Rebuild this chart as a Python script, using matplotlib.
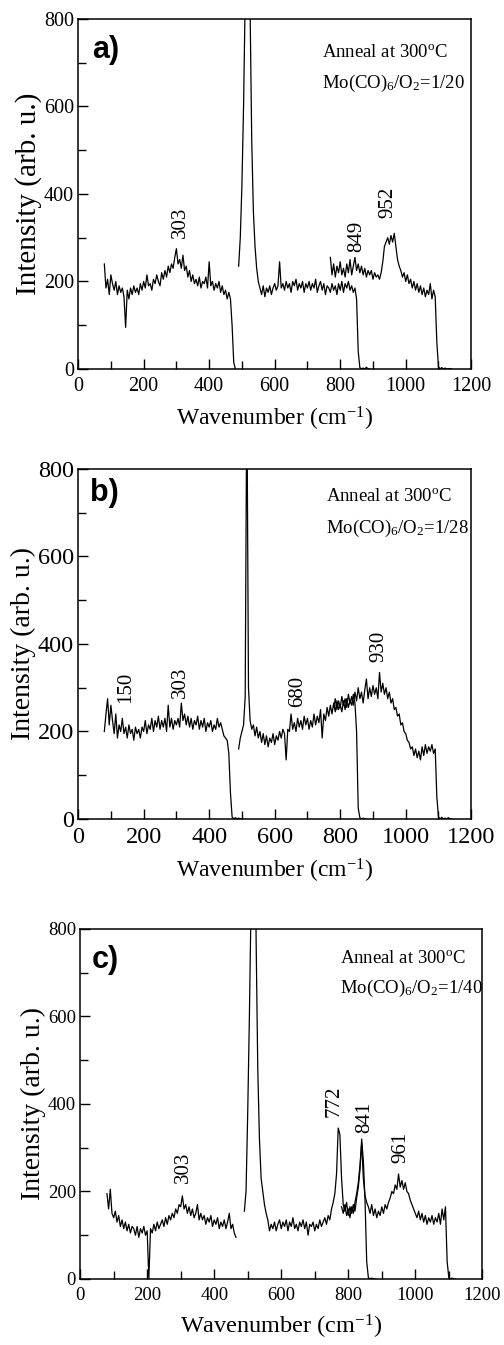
import matplotlib
matplotlib.use('Agg')
import matplotlib.pyplot as plt
import numpy as np

plt.rcParams['font.family'] = ['Liberation Serif', 'DejaVu Serif']
plt.rcParams['mathtext.fontset'] = 'custom'
plt.rcParams['mathtext.rm'] = 'Liberation Serif'
plt.rcParams['mathtext.it'] = 'Liberation Serif:italic'
plt.rcParams['mathtext.bf'] = 'Liberation Serif:bold'

STEP = 5  # cm-1 between read-off points

# ---- panel a: Mo(CO)6/O2 = 1/20 ----
a_w1_start = 80
a_w1 = [240, 185, 205, 170, 215, 195, 180, 200, 170, 190, 175, 185, 165, 95, 180, 160,
        185, 170, 190, 175, 185, 170, 195, 180, 200, 185, 215, 190, 195, 180, 205, 195,
        215, 200, 190, 220, 205, 225, 210, 235, 220, 240, 230, 255, 275, 240, 250, 230,
        260, 225, 235, 210, 225, 200, 215, 195, 205, 190, 210, 185, 200, 195, 210, 185,
        245, 190, 200, 180, 195, 185, 200, 175, 190, 170, 180, 160, 175, 160, 100, 15, 0]
a_w2_start = 490
a_w2 = [235, 300, 420, 600, 850, 1600, 1800, 820, 520, 360, 280, 230, 200, 185, 170, 190,
        165, 185, 175, 190, 170, 185, 195, 180, 190, 245, 185, 195, 180, 200, 185, 195,
        175, 200, 190, 205, 180, 195, 185, 200, 175, 195, 185, 200, 180, 195, 185, 205,
        175, 190, 200, 180, 195, 170, 190, 185, 175, 195, 180, 190, 170, 195, 180, 200,
        175, 195, 185, 200, 180, 190, 175, 185, 160, 40, 3, 0, 2, 0, 4, 0, 0]
a_w3_start = 770
a_w3 = [255, 215, 240, 210, 235, 220, 245, 215, 230, 210, 240, 220, 250, 215, 235, 255,
        225, 240, 220, 235, 215, 230, 210, 225, 215, 225, 205, 220, 210, 215, 205, 220,
        245, 280, 290, 300, 285, 305, 290, 310, 280, 250, 235, 225, 210, 220, 200, 215,
        195, 205, 185, 200, 180, 195, 175, 190, 170, 185, 165, 180, 170, 195, 160, 180,
        165, 60, 5, 0, 3, 0, 2, 0, 0, 1, 0]

# ---- panel b: Mo(CO)6/O2 = 1/28 ----
b_w1_start = 80
b_w1 = [200, 240, 275, 215, 260, 225, 195, 240, 185, 215, 200, 230, 195, 210, 185, 215,
        195, 205, 180, 210, 195, 205, 185, 210, 200, 225, 195, 215, 205, 230, 200, 225,
        210, 235, 205, 225, 210, 230, 200, 260, 210, 230, 205, 225, 215, 230, 210, 265,
        225, 240, 215, 235, 210, 230, 205, 225, 215, 235, 205, 225, 210, 230, 200, 220,
        210, 225, 200, 215, 205, 230, 210, 220, 205, 190, 185, 180, 150, 60, 5, 0, 3, 0,
        2, 0, 0]
b_w2_start = 490
b_w2 = [160, 185, 200, 215, 280, 1000, 300, 225, 205, 215, 190, 210, 185, 200, 175, 195,
        170, 190, 165, 185, 175, 195, 170, 190, 180, 200, 185, 205, 195, 135, 205, 200,
        240, 205, 220, 200, 230, 210, 225, 205, 235, 215, 230, 205, 225, 210, 240, 215,
        235, 220, 250, 185, 240, 225, 255, 235, 260, 240, 265, 245, 270, 250, 260, 245,
        270, 250, 275, 255, 270, 260, 285, 265, 200, 25, 3, 0, 2, 0, 0]
b_w3_start = 780
b_w3 = [255, 275, 250, 270, 255, 280, 260, 275, 255, 285, 265, 280, 260, 290, 270, 300,
        275, 290, 265, 295, 320, 275, 300, 280, 305, 285, 300, 275, 335, 290, 310, 285,
        300, 275, 290, 265, 275, 250, 255, 235, 240, 215, 220, 200, 195, 180, 175, 160,
        165, 145, 160, 140, 155, 135, 165, 145, 170, 150, 165, 155, 170, 150, 160, 50,
        5, 0, 4, 0, 2, 0, 3, 0, 0]

# ---- panel c: Mo(CO)6/O2 = 1/40 ----
c_w1_start = 80
c_w1 = [195, 160, 205, 150, 140, 155, 130, 145, 120, 135, 115, 130, 110, 125, 105, 120,
        115, 100, 120, 95, 115, 105, 120, 100, 110, 0, 115, 105, 125, 110, 130, 115,
        125, 135, 120, 140, 125, 145, 135, 150, 140, 160, 150, 170, 165, 190, 160, 170,
        150, 165, 145, 160, 140, 150, 170, 135, 150, 135, 145, 125, 140, 130, 145, 120,
        135, 125, 140, 115, 130, 120, 135, 115, 130, 150, 115, 125, 105, 95]
c_w2_start = 490
c_w2 = [155, 200, 380, 600, 860, 1800, 1500, 780, 480, 320, 230, 200, 170, 150, 135, 110,
        125, 115, 130, 110, 125, 135, 115, 130, 120, 135, 110, 130, 120, 140, 115, 125,
        110, 130, 120, 135, 115, 130, 100, 125, 120, 130, 110, 125, 115, 135, 120, 130,
        140, 125, 145, 135, 160, 175, 195, 240, 345, 330, 230, 170, 155, 175, 145, 165,
        150, 170, 155, 185, 210, 250, 320, 270, 180, 40, 3, 0, 2, 0, 0]
c_w3_start = 780
c_w3 = [165, 150, 170, 145, 160, 140, 165, 150, 175, 195, 220, 260, 310, 230, 190, 175,
        165, 150, 170, 145, 160, 140, 155, 145, 165, 150, 170, 160, 175, 185, 200, 195,
        215, 205, 240, 210, 225, 205, 220, 200, 195, 180, 170, 160, 150, 140, 155, 135,
        150, 130, 145, 125, 140, 130, 145, 125, 140, 130, 150, 125, 160, 135, 165, 40,
        3, 0, 2, 0, 0]

panel_tags = ['a)', 'b)', 'c)']
ratios = ['1/20', '1/28', '1/40']
windows = [
    [(a_w1_start, a_w1), (a_w2_start, a_w2), (a_w3_start, a_w3)],
    [(b_w1_start, b_w1), (b_w2_start, b_w2), (b_w3_start, b_w3)],
    [(c_w1_start, c_w1), (c_w2_start, c_w2), (c_w3_start, c_w3)],
]
peaks = [[303, 849, 952], [150, 303, 680, 930], [303, 772, 841, 961]]

# layout (not data)
peak_label_x = [[313, 851, 945], [146, 313, 669, 919], [307, 758, 848, 957]]
peak_label_y = [[300, 267, 345], [265, 276, 256, 359], [219, 370, 334, 265]]
axes_rects = [[0.155, 0.7257, 0.780, 0.2602],
              [0.155, 0.3911, 0.780, 0.2602],
              [0.159, 0.0491, 0.798, 0.2602]]
tick_fs = [14.5, 17.5, 13.5]
ylabel_fs = [21, 20, 20]
xlabel_fs = [17, 17, 17.5]
note_pos = [(0.62, 0.905, 0.815), (0.63, 0.92, 0.83), (0.645, 0.917, 0.83)]
tag_pos = [(0.035, 0.91), (0.03, 0.93), (0.03, 0.91)]

fig = plt.figure(figsize=(5.04, 13.45), dpi=100)

for i in range(3):
    ax = fig.add_axes(axes_rects[i])
    for start, vals in windows[i]:
        x = start + STEP * np.arange(len(vals))
        ax.plot(x, vals, color='black', linewidth=0.9)
    ax.set_xlim(0, 1200)
    ax.set_ylim(0, 800)
    ax.set_xticks(np.arange(0, 1201, 200))
    ax.set_xticks(np.arange(100, 1200, 200), minor=True)
    ax.set_yticks(np.arange(0, 801, 200))
    ax.set_yticks(np.arange(100, 800, 200), minor=True)
    ax.tick_params(which='both', direction='in', top=False, right=False,
                   labelsize=tick_fs[i], width=1.0)
    ax.tick_params(axis='x', which='major', pad=6)
    ax.tick_params(axis='y', which='major', pad=3)
    ax.tick_params(which='major', length=7)
    ax.tick_params(which='minor', length=6)
    for s in ax.spines.values():
        s.set_linewidth(1.1)
    ax.set_xlabel(r'Wavenumber (cm$^{-1}$)', fontsize=xlabel_fs[i], labelpad=6)
    ax.set_ylabel('Intensity (arb. u.)', fontsize=ylabel_fs[i], labelpad=1)

    for p, lx, ly in zip(peaks[i], peak_label_x[i], peak_label_y[i]):
        ax.text(lx, ly, str(p), rotation=90, ha='center', va='bottom', fontsize=15)

    nx, ny1, ny2 = note_pos[i]
    ax.text(nx, ny1, r'Anneal at 300$^{\mathrm{o}}$C', transform=ax.transAxes,
            ha='left', va='center', fontsize=13.5)
    ax.text(nx, ny2, r'Mo(CO)$_6$/O$_2$=' + ratios[i], transform=ax.transAxes,
            ha='left', va='center', fontsize=13.5)
    tx, ty = tag_pos[i]
    ax.text(tx, ty, panel_tags[i], transform=ax.transAxes, ha='left', va='center',
            fontsize=22, fontweight='bold', family=['Liberation Sans', 'DejaVu Sans'])

plt.savefig('out.png', dpi=100, facecolor='white')
